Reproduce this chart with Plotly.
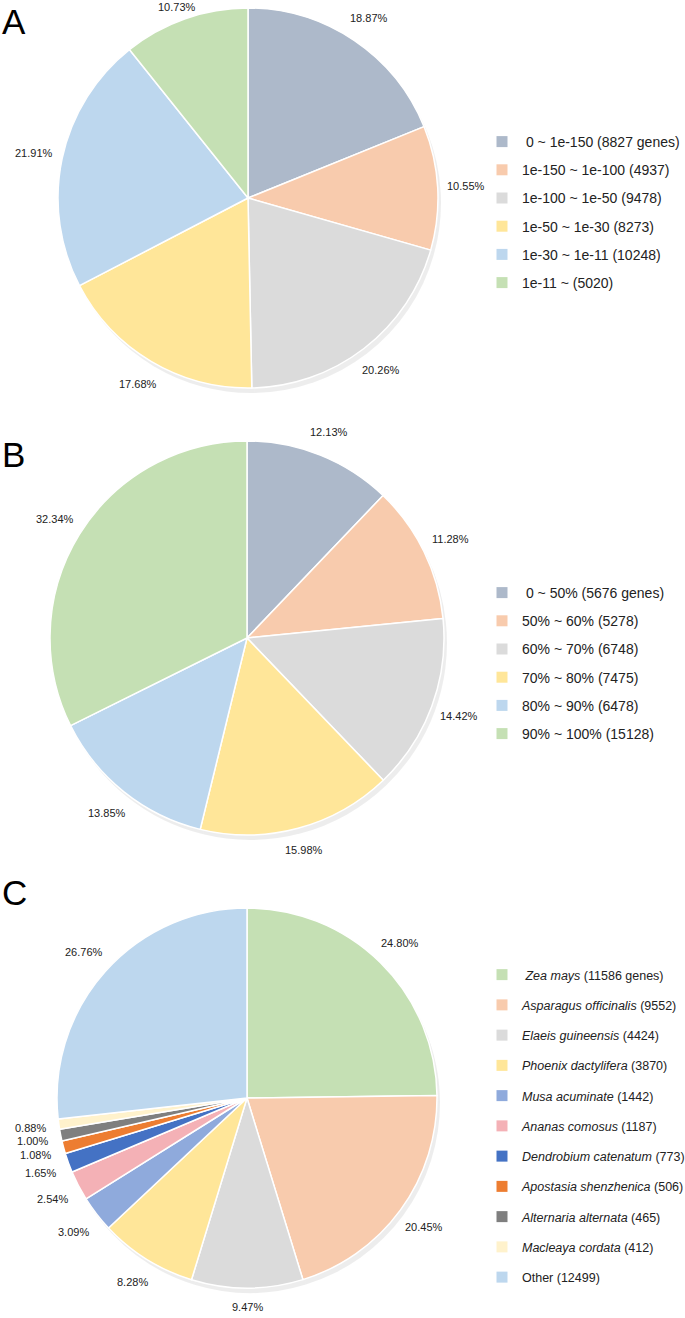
import math
import plotly.graph_objects as go

W, H = 685, 1318

# ---------------- data ----------------
a_labels = ["\u00a00 ~ 1e-150 (8827 genes)", "1e-150 ~ 1e-100 (4937)", "1e-100 ~ 1e-50 (9478)",
            "1e-50 ~ 1e-30 (8273)", "1e-30 ~ 1e-11 (10248)", "1e-11 ~ (5020)"]
a_values = [8827, 4937, 9478, 8273, 10248, 5020]

b_labels = ["\u00a00 ~ 50% (5676 genes)", "50% ~ 60% (5278)", "60% ~ 70% (6748)",
            "70% ~ 80% (7475)", "80% ~ 90% (6478)", "90% ~ 100% (15128)"]
b_values = [5676, 5278, 6748, 7475, 6478, 15128]

c_labels = ["\u00a0<i>Zea mays</i> (11586 genes)", "<i>Asparagus officinalis</i> (9552)",
            "<i>Elaeis guineensis</i> (4424)", "<i>Phoenix dactylifera</i> (3870)",
            "<i>Musa acuminate</i> (1442)", "<i>Ananas comosus</i> (1187)",
            "<i>Dendrobium catenatum</i> (773)", "<i>Apostasia shenzhenica</i> (506)",
            "<i>Alternaria alternata</i> (465)", "<i>Macleaya cordata</i> (412)", "Other (12499)"]
c_values = [11586, 9552, 4424, 3870, 1442, 1187, 773, 506, 465, 412, 12499]

ab_colors = ["#ADB9CA", "#F8CBAD", "#DBDBDB", "#FFE699", "#BDD7EE", "#C5E0B4"]
c_colors = ["#C5E0B4", "#F8CBAD", "#DBDBDB", "#FFE699", "#8FAADC", "#F4B1B6",
            "#4472C4", "#ED7D31", "#7F7F7F", "#FFF2CC", "#BDD7EE"]

panels = [
    dict(letter="A", labels=a_labels, values=a_values, colors=ab_colors,
         cx=248, cy=198, r=190, legend="legend", leg_top=126, leg_font=14, leg_gap=7,
         letter_y=0),
    dict(letter="B", labels=b_labels, values=b_values, colors=ab_colors,
         cx=247, cy=638, r=197, legend="legend2", leg_top=577, leg_font=14, leg_gap=7,
         letter_y=433),
    dict(letter="C", labels=c_labels, values=c_values, colors=c_colors,
         cx=247, cy=1098, r=190, legend="legend3", leg_top=960, leg_font=12.5, leg_gap=11,
         letter_y=871),
]

fig = go.Figure()
annotations = []
layout_legends = {}

for p in panels:
    cx, cy, r = p["cx"], p["cy"], p["r"]
    # soft shadow
    sx, sy = 3, 5
    fig.add_trace(go.Pie(
        values=p["values"], labels=p["labels"], sort=False, direction="clockwise", rotation=0,
        marker=dict(colors=["rgba(0,0,0,0.07)"] * len(p["values"]), line=dict(width=0)),
        textinfo="none", hoverinfo="skip", showlegend=False,
        domain=dict(x=[(cx + sx - r) / W, (cx + sx + r) / W],
                    y=[1 - (cy + sy + r) / H, 1 - (cy + sy - r) / H])))
    fig.add_trace(go.Pie(
        values=p["values"], labels=p["labels"], sort=False, direction="clockwise", rotation=0,
        marker=dict(colors=p["colors"], line=dict(color="white", width=1.5)),
        textinfo="none", showlegend=False,
        domain=dict(x=[(cx - r) / W, (cx + r) / W], y=[1 - (cy + r) / H, 1 - (cy - r) / H])))
    # percent labels
    total = sum(p["values"])
    cum = 0
    for v in p["values"]:
        mid = (cum + v / 2) / total * 2 * math.pi
        cum += v
        s, c = math.sin(mid), math.cos(mid)
        R = r + 12 + 16 * abs(s) + 7 * abs(c)
        x = cx + R * s
        y = min(max(cy - R * c, 7), H - 8)
        annotations.append(dict(x=x / W, y=1 - y / H, xref="paper", yref="paper",
                                text=f"{v / total * 100:.2f}%", showarrow=False,
                                xanchor="center", yanchor="middle",
                                font=dict(size=11, color="#222", family="Liberation Sans, Arial")))
    # panel letter
    annotations.append(dict(x=0.0, y=1 - p["letter_y"] / H, xref="paper", yref="paper",
                            text=p["letter"], showarrow=False, xanchor="left", yanchor="top",
                            font=dict(size=35, color="black", family="Liberation Sans, Arial")))
    # legend entries
    for lab, col in zip(p["labels"], p["colors"]):
        fig.add_trace(go.Scatter(x=[None], y=[None], mode="markers", name=lab,
                                 legend=p["legend"], legendgroup=p["letter"] + lab,
                                 marker=dict(symbol="square", size=11, color=col),
                                 hoverinfo="skip"))
    layout_legends[p["legend"]] = dict(
        x=482 / W, xanchor="left", y=1 - p["leg_top"] / H, yanchor="top",
        traceorder="grouped", tracegroupgap=p["leg_gap"],
        font=dict(size=p["leg_font"], color="#222", family="Liberation Sans, Arial"),
        bgcolor="rgba(0,0,0,0)", itemclick=False, itemdoubleclick=False)

fig.update_layout(
    width=W, height=H, autosize=False,
    margin=dict(l=0, r=0, t=0, b=0, autoexpand=False),
    paper_bgcolor="white", plot_bgcolor="white",
    xaxis=dict(visible=False), yaxis=dict(visible=False),
    annotations=annotations,
    **layout_legends,
)

fig.write_html("out.html", config={"displayModeBar": False},
               post_script="document.body.style.margin='0px';document.body.style.overflow='hidden';")
